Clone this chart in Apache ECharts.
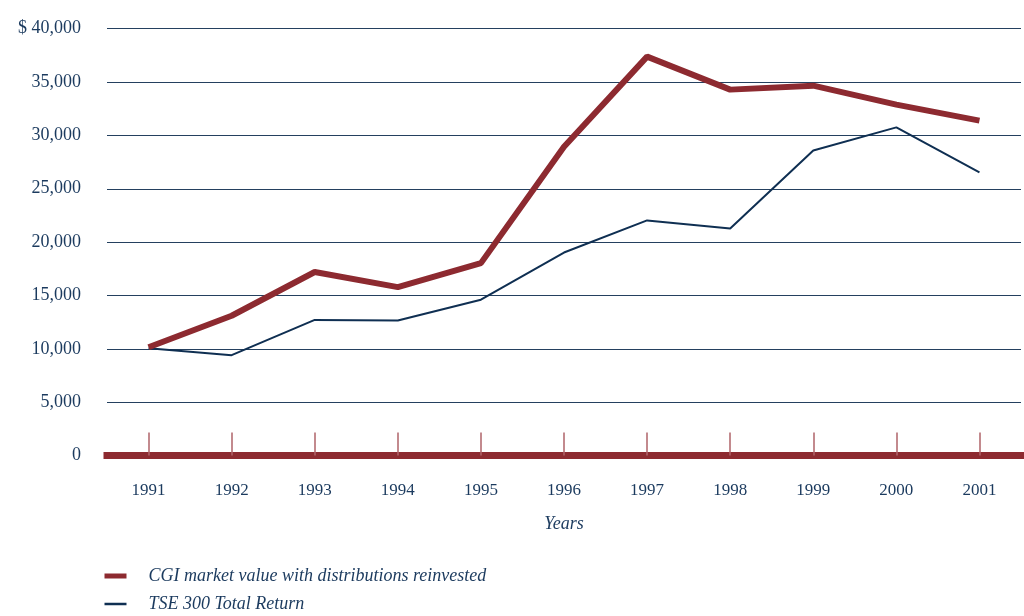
<!DOCTYPE html>
<html>
<head>
<meta charset="utf-8">
<script src="https://cdn.jsdelivr.net/npm/echarts@6/dist/echarts.min.js"></script>
<style>
  html, body { margin: 0; padding: 0; background: #fff; }
  #chart { width: 1024px; height: 616px; }
</style>
</head>
<body>
<div id="chart"></div>
<script>
const years = ["1991", "1992", "1993", "1994", "1995", "1996", "1997", "1998", "1999", "2000", "2001"];
const cgiValues = [10150, 13100, 17200, 15780, 18030, 28940, 37380, 34290, 34660, 32880, 31380];
const tseValues = [10050, 9400, 12710, 12650, 14600, 19020, 22030, 21280, 28590, 30750, 26530];
const seriesNames = ["CGI market value with distributions reinvested", "TSE 300 Total Return"];

const navy = "#1b3a5e";
const red = "#8d2a30";
const blue = "#0f2f52";
const font = "'Liberation Serif', 'DejaVu Serif', serif";

const chartDom = document.getElementById("chart");
const myChart = echarts.init(chartDom);

const options = {
  animation: false,
  grid: { left: 107, right: 3, top: 28.7, bottom: 160.5 },
  legend: {
    orient: "vertical",
    left: 102,
    top: 566,
    padding: 0,
    itemGap: 8,
    itemWidth: 22,
    itemHeight: 14,
    data: [
      { name: seriesNames[0], lineStyle: { width: 5, color: red } },
      { name: seriesNames[1], lineStyle: { width: 2.5, color: blue } },
    ],
    itemStyle: { opacity: 0 }, // hide the circle, keep the line
    textStyle: {
      color: navy,
      fontFamily: font,
      fontStyle: "italic",
      fontSize: 18,
      lineHeight: 20,
      padding: [0, 0, 0, 17],
    },
  },
  xAxis: {
    type: "category",
    data: years,
    boundaryGap: true,
    offset: 4,
    name: "Years",
    nameLocation: "middle",
    nameGap: 56,
    nameTextStyle: { color: navy, fontFamily: font, fontStyle: "italic", fontSize: 18 },
    axisLine: { show: true, lineStyle: { color: red, width: 7, cap: "square" } },
    axisTick: {
      show: true,
      inside: true,
      alignWithLabel: true,
      length: 23,
      lineStyle: { color: "#b0646a", width: 1.5 },
    },
    axisLabel: { color: navy, fontFamily: font, fontSize: 17, margin: 23 },
    splitLine: { show: false },
  },
  yAxis: {
    type: "value",
    min: 0,
    max: 40000,
    interval: 5000,
    axisLine: { show: false },
    axisTick: { show: false },
    axisLabel: {
      color: navy,
      fontFamily: font,
      fontSize: 18,
      margin: 26,
      formatter: (v) => (v === 40000 ? "$ 40,000" : v.toLocaleString("en-US")),
    },
    splitLine: { show: true, lineStyle: { color: "#24405f", width: 1 } },
  },
  series: [
    {
      name: seriesNames[0],
      type: "line",
      data: cgiValues,
      symbol: "none",
      z: 3,
      lineStyle: { color: red, width: 6 },
      itemStyle: { color: red },
    },
    {
      name: seriesNames[1],
      type: "line",
      data: tseValues,
      symbol: "none",
      z: 2,
      lineStyle: { color: blue, width: 2 },
      itemStyle: { color: blue },
    },
  ],
};

myChart.setOption(options);
</script>
</body>
</html>
